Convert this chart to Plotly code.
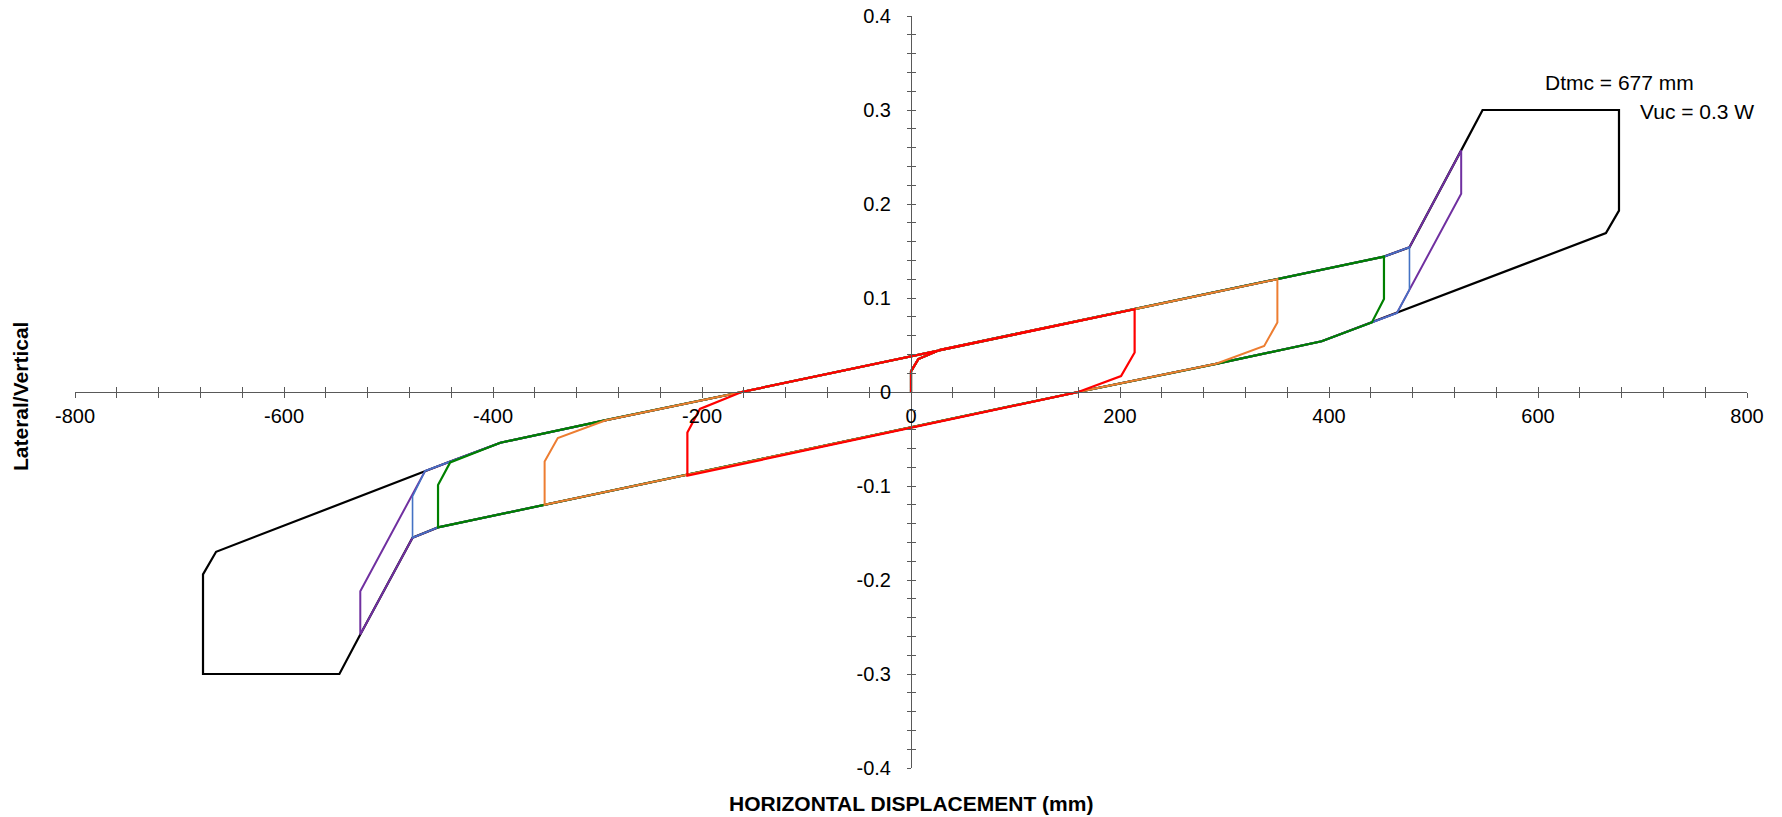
import plotly.graph_objects as go

# ---------------- data ----------------
black_x = [0, 0, 7, 28, 452.6, 477, 526.5, 547, 677.5, 677.5, 665, 465, 441, 393, 292, 160,
           -452.6, -477, -527, -547, -677.5, -677.5, -665, -465, -441, -393, -292, -162,
           452.6, 477, 526.5, 547]
black_y = [0, 0.022, 0.035, 0.045, 0.144, 0.154, 0.257, 0.300, 0.300, 0.193, 0.169, 0.084, 0.074, 0.054, 0.030, 0,
           -0.144, -0.155, -0.258, -0.300, -0.300, -0.194, -0.170, -0.084, -0.074, -0.054, -0.030, 0,
           0.144, 0.154, 0.257, 0.300]

purple_x = [0, 0, 7, 28, 452.6, 477, 526.5, 526.5, 465, 441, 393, 292, 160,
            -452.6, -477, -527, -527, -465, -441, -393, -292, -162, 452.6, 477, 526.5]
purple_y = [0, 0.022, 0.035, 0.045, 0.144, 0.154, 0.257, 0.211, 0.084, 0.074, 0.054, 0.030, 0,
            -0.144, -0.155, -0.258, -0.212, -0.084, -0.074, -0.054, -0.030, 0, 0.144, 0.154, 0.257]

blue_x = [0, 0, 7, 28, 452.6, 477, 477, 465, 441, 393, 292, 160,
          -452.6, -477, -477, -465, -441, -393, -292, -162, 452.6, 477]
blue_y = [0, 0.022, 0.035, 0.045, 0.144, 0.154, 0.109, 0.084, 0.074, 0.054, 0.030, 0,
          -0.144, -0.155, -0.111, -0.084, -0.074, -0.054, -0.030, 0, 0.144, 0.154]

green_x = [0, 0, 7, 28, 452.6, 452.6, 441, 393, 292, 160,
           -452.6, -452.6, -441, -393, -292, -162, 452.6]
green_y = [0, 0.022, 0.035, 0.045, 0.144, 0.099, 0.074, 0.054, 0.030, 0,
           -0.144, -0.099, -0.075, -0.054, -0.030, 0, 0.144]

orange_x = [0, 0, 7, 28, 350.6, 350.6, 338, 292, 160,
            -350.6, -350.6, -338, -292, -162, 350.6]
orange_y = [0, 0.022, 0.035, 0.045, 0.120, 0.074, 0.049, 0.030, 0,
            -0.120, -0.074, -0.049, -0.030, 0, 0.120]

red_x = [0, 0, 7, 28, 214, 214, 201, 160, -214, -214, -202, -162, 214]
red_y = [0, 0.022, 0.035, 0.045, 0.088, 0.042, 0.017, 0, -0.089, -0.043, -0.018, 0, 0.088]

x_ticks = [-800, -600, -400, -200, 0, 200, 400, 600, 800]
x_tick_labels = ["-800", "-600", "-400", "-200", "0", "200", "400", "600", "800"]
y_ticks = [-0.4, -0.3, -0.2, -0.1, 0, 0.1, 0.2, 0.3, 0.4]
y_tick_labels = ["-0.4", "-0.3", "-0.2", "-0.1", "0", "0.1", "0.2", "0.3", "0.4"]

x_title = "HORIZONTAL DISPLACEMENT (mm)"
y_title = "Lateral/Vertical"
note1 = "Dtmc = 677 mm"
note2 = "Vuc = 0.3 W"

# ---------------- figure ----------------
FONT = "Liberation Sans, Arial, sans-serif"
AXC = "#595959"

series = [
    (black_x, black_y, "#000000", 2.2),
    (purple_x, purple_y, "#7030A0", 2.0),
    (blue_x, blue_y, "#4472C4", 1.6),
    (green_x, green_y, "#008000", 2.2),
    (orange_x, orange_y, "#ED7D31", 2.0),
    (red_x, red_y, "#FF0000", 2.2),
]

fig = go.Figure()
for xs, ys, c, w in series:
    fig.add_trace(go.Scatter(x=xs, y=ys, mode="lines",
                             line=dict(color=c, width=w),
                             showlegend=False, hoverinfo="skip"))

# invisible trace for the overlay axes (inner half of the cross ticks)
fig.add_trace(go.Scatter(x=[None], y=[None], xaxis="x2", yaxis="y2",
                         showlegend=False, hoverinfo="skip"))

common_x = dict(range=[-800, 800], showgrid=False, zeroline=False, automargin=False,
                anchor="free", position=0.5, tickcolor=AXC, ticklen=5, tickwidth=1)
common_y = dict(range=[-0.4, 0.4], showgrid=False, zeroline=False, automargin=False,
                anchor="free", position=0.5, tickcolor=AXC, ticklen=4, tickwidth=1)

fig.update_layout(
    width=1782, height=817,
    margin=dict(l=75, r=35, t=16, b=49, autoexpand=False),
    paper_bgcolor="white", plot_bgcolor="white",
    font=dict(family=FONT, size=20, color="#000000"),
    xaxis=dict(**common_x, domain=[0, 1], showline=True, linecolor=AXC, linewidth=1,
               ticks="outside", tickmode="array", tickvals=x_ticks, ticktext=x_tick_labels,
               ticklabelstandoff=1,
               tickfont=dict(family=FONT, size=20, color="#000000"),
               minor=dict(tickmode="linear", tick0=0, dtick=40, ticks="outside",
                          ticklen=5, tickcolor=AXC)),
    yaxis=dict(**common_y, domain=[0, 1], showline=True, linecolor=AXC, linewidth=1,
               ticks="outside", tickmode="array", tickvals=y_ticks, ticktext=y_tick_labels,
               ticklabelstandoff=12,
               tickfont=dict(family=FONT, size=20, color="#000000"),
               minor=dict(tickmode="linear", tick0=0, dtick=0.02, ticks="outside",
                          ticklen=4, tickcolor=AXC)),
    xaxis2=dict(**common_x, overlaying="x", showline=False, showticklabels=False,
                ticks="inside", tickmode="array", tickvals=x_ticks,
                minor=dict(tickmode="linear", tick0=0, dtick=40, ticks="inside",
                           ticklen=5, tickcolor=AXC)),
    yaxis2=dict(**common_y, overlaying="y", side="left", showline=False, showticklabels=False,
                ticks="inside", tickmode="array", tickvals=y_ticks,
                minor=dict(tickmode="linear", tick0=0, dtick=0.02, ticks="inside",
                           ticklen=4, tickcolor=AXC)),
)

fig.add_annotation(text="<b>" + x_title + "</b>", xref="paper", yref="paper",
                   x=0.5, y=0, xanchor="center", yanchor="top", yshift=-22,
                   showarrow=False, font=dict(family=FONT, size=21, color="#000000"))
fig.add_annotation(text="<b>" + y_title + "</b>", xref="paper", yref="paper",
                   x=0, y=0.5, xanchor="center", yanchor="middle", xshift=-55, yshift=-5,
                   textangle=-90, showarrow=False,
                   font=dict(family=FONT, size=21, color="#000000"))
fig.add_annotation(text=note1, xref="x", yref="y", x=604.8, y=0.329,
                   xanchor="left", yanchor="middle", showarrow=False,
                   font=dict(family=FONT, size=21, color="#000000"))
fig.add_annotation(text=note2, xref="x", yref="y", x=695.7, y=0.298,
                   xanchor="left", yanchor="middle", showarrow=False,
                   font=dict(family=FONT, size=21, color="#000000"))

# remove the browser's default 8px body margin so the figure fills the window exactly
fig.write_html("out.html",
               config={"displayModeBar": False},
               post_script="document.body.style.margin='0';document.body.style.overflow='hidden';")
